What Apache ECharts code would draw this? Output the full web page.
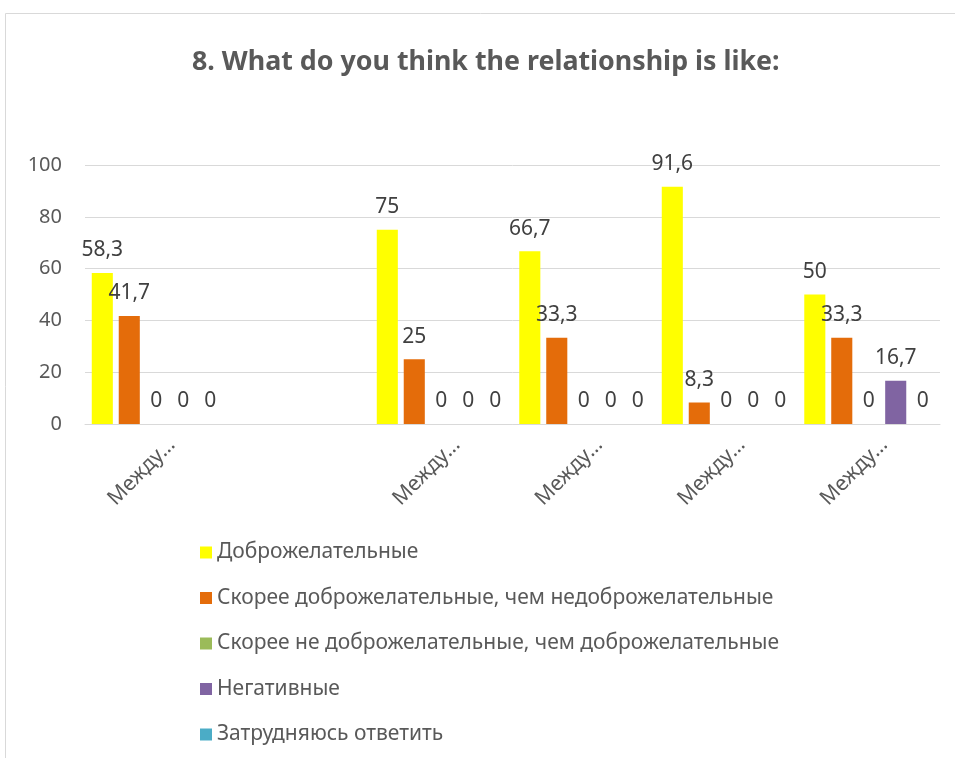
<!DOCTYPE html>
<html><head><meta charset="utf-8">
<script src="https://cdn.jsdelivr.net/npm/echarts@6/dist/echarts.min.js"></script>
<style>html,body{margin:0;padding:0;background:#fff}#c{width:955px;height:758px}</style>
</head><body><div id="c"></div>
<script>
const categories = ['Между…', '', 'Между…', 'Между…', 'Между…', 'Между…'];
const seriesNames = ['Доброжелательные', 'Скорее доброжелательные, чем недоброжелательные', 'Скорее не доброжелательные, чем доброжелательные', 'Негативные', 'Затрудняюсь ответить'];
const s1 = [58.3, null, 75, 66.7, 91.6, 50];
const s2 = [41.7, null, 25, 33.3, 8.3, 33.3];
const s3 = [0, null, 0, 0, 0, 0];
const s4 = [0, null, 0, 0, 0, 16.7];
const s5 = [0, null, 0, 0, 0, 0];
const yTicks = [0, 20, 40, 60, 80, 100];
const colors = ['#FFFF00', '#E46C0A', '#9BBB59', '#8064A2', '#4BACC6'];
const FONT = 'Noto Sans';
const chart = echarts.init(document.getElementById('c'));
const data = [s1, s2, s3, s4, s5];
chart.setOption({
  animation: false,
  title: {
    text: '8. What do you think the relationship is like:',
    left: 187, top: 44,
    textStyle: { fontFamily: FONT, fontSize: 26.8, fontWeight: 'bold', color: '#595959' }
  },
  graphic: [{
    type: 'rect', shape: { x: 5.5, y: 13.5, width: 1000, height: 1000 },
    style: { fill: 'none', stroke: '#d9d9d9', lineWidth: 1 }, silent: true
  }],
  legend: {
    orient: 'vertical', left: 200, top: 542, padding: 0,
    itemWidth: 12, itemHeight: 12, itemGap: 24.5,
    icon: 'rect',
    textStyle: { fontFamily: FONT, fontSize: 21, color: '#595959' },
    data: seriesNames
  },
  grid: { left: 85, right: 15, top: 165, bottom: 334, containLabel: false },
  xAxis: {
    type: 'category', data: categories,
    axisLine: { lineStyle: { color: '#d9d9d9', width: 1 } },
    axisTick: { show: false },
    axisLabel: { rotate: 45, fontFamily: FONT, fontSize: 21, lineHeight: 44, color: '#595959', margin: 2, interval: 0, verticalAlign: 'top' }
  },
  yAxis: {
    type: 'value', min: yTicks[0], max: yTicks[yTicks.length - 1], interval: 20,
    axisLine: { show: false }, axisTick: { show: false },
    splitLine: { lineStyle: { color: '#d9d9d9', width: 1 } },
    axisLabel: { fontFamily: FONT, fontSize: 20, color: '#595959', margin: 23 }
  },
  series: data.map((d, i) => ({
    name: seriesNames[i], type: 'bar', data: d,
    barGap: '28%', barCategoryGap: '9.5%',
    itemStyle: { color: colors[i] },
    label: {
      show: true, position: 'top', distance: 12,
      fontFamily: FONT, fontSize: 21, color: '#404040',
      formatter: p => (p.value === null || p.value === undefined) ? '' : String(p.value).replace('.', ',')
    }
  }))
});
</script></body></html>
